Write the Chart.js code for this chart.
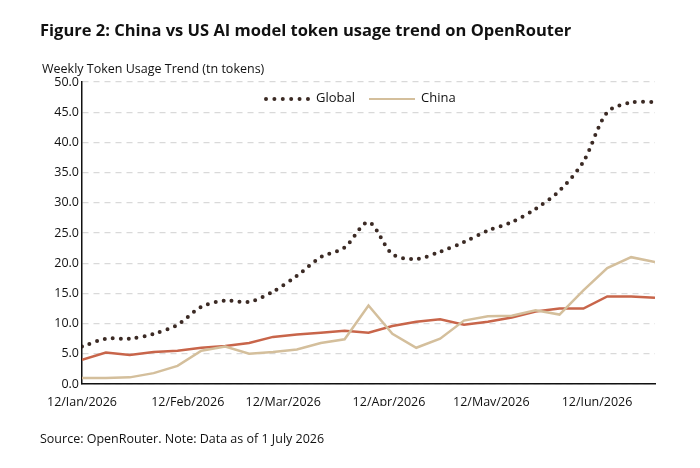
<!DOCTYPE html>
<html>
<head>
<meta charset="utf-8">
<script src="https://cdn.jsdelivr.net/npm/chart.js@4"></script>
<style>
  body { margin: 0; background: #fff; font-family: "Open Sans", "Noto Sans", sans-serif; color: #111; }
  #wrap { position: relative; width: 700px; height: 468px; }
  #chart { position: absolute; left: 0; top: 0; }
  .txt { position: absolute; white-space: nowrap; }
  #title { left: 40px; top: 18px; font-size: 16.5px; font-weight: bold; }
  #ytitle { left: 42px; top: 60px; font-size: 12.5px; }
  #source { left: 40px; top: 430px; font-size: 12.5px; }
  #legend { left: 264px; top: 88px; font-size: 13px; display: flex; gap: 14px; align-items: center; }
  .key { display: inline-block; width: 46px; vertical-align: middle; margin-right: 6px; }
  .dots { border-top: 4px dotted #3b2a24; }
  .solid { border-top: 2.5px solid #d4bf9c; }
</style>
</head>
<body>
<div id="wrap">
  <canvas id="chart" width="700" height="468"></canvas>
  <div class="txt" id="title">Figure 2: China vs US AI model token usage trend on OpenRouter</div>
  <div class="txt" id="ytitle">Weekly Token Usage Trend (tn tokens)</div>
  <div class="txt" id="legend"><span><span class="key dots"></span>Global</span><span><span class="key solid"></span>China</span></div>
  <div class="txt" id="source">Source: OpenRouter. Note: Data as of 1 July 2026</div>
</div>
<script>
// days since 12/Jan/2026, one point per week
const weekDays = [0,7,14,21,28,35,42,49,56,63,70,77,84,91,98,105,112,119,126,133,140,147,154,161,168];
const globalUsage = [6.2,7.5,7.5,8.3,9.8,12.8,13.8,13.6,15.3,17.9,21.0,22.6,26.8,21.5,20.7,21.9,23.5,25.4,26.8,29.0,32.0,36.8,45.0,46.6,46.7];
const chinaUsage = [1.0,1.0,1.1,1.8,3.0,5.5,6.2,5.0,5.3,5.7,6.8,7.4,13.0,8.3,6.0,7.5,10.5,11.2,11.3,12.2,11.5,15.5,19.2,21.0,20.2];
const usUsage = [4.0,5.2,4.8,5.3,5.5,6.0,6.3,6.8,7.8,8.2,8.5,8.8,8.5,9.6,10.3,10.7,9.8,10.3,11.0,12.0,12.5,12.5,14.5,14.5,14.3];
const tickDays = [0,31,59,90,120,151];
const tickLabels = ['12/Jan/2026','12/Feb/2026','12/Mar/2026','12/Apr/2026','12/May/2026','12/Jun/2026'];

const pts = arr => arr.map((v, i) => ({ x: weekDays[i], y: v }));

new Chart(document.getElementById('chart'), {
    type: 'line',
    data: {
        datasets: [
            { label: 'Global', data: pts(globalUsage), borderColor: '#3b2a24', borderWidth: 4, borderDash: [0, 8], borderCapStyle: 'round', pointRadius: 0, tension: 0.3 },
            { label: 'China', data: pts(chinaUsage), borderColor: '#d4bf9c', borderWidth: 2.5, pointRadius: 0, tension: 0 },
            { label: 'US', data: pts(usUsage), borderColor: '#c8654a', borderWidth: 2.5, pointRadius: 0, tension: 0 }
        ]
    },
    options: {
        responsive: false,
        animation: false,
        layout: { padding: { left: 0, right: 45, top: 82, bottom: 62 } },
        plugins: { legend: { display: false }, tooltip: { enabled: false } },
        scales: {
            x: {
                type: 'linear', min: 0, max: 168,
                afterBuildTicks: axis => { axis.ticks = tickDays.map(v => ({ value: v })); },
                ticks: { autoSkip: false, maxRotation: 0, color: '#111', font: { family: 'Open Sans', size: 12.5 },
                    callback: v => tickLabels[tickDays.indexOf(v)] },
                grid: { display: false, drawTicks: true },
                border: { color: '#111', width: 1.5 },
                afterFit: axis => { axis.height = 22; }
            },
            y: {
                min: 0, max: 50,
                ticks: { stepSize: 5, color: '#111', font: { family: 'Open Sans', size: 12.5 }, callback: v => v.toFixed(1) },
                grid: { color: '#d9d9d9', lineWidth: 1.2, tickLength: 0 },
                border: { color: '#111', width: 1.5, dash: [6, 5] },
                afterFit: axis => { axis.width = 82; }
            }
        }
    }
});
</script>
</body>
</html>
